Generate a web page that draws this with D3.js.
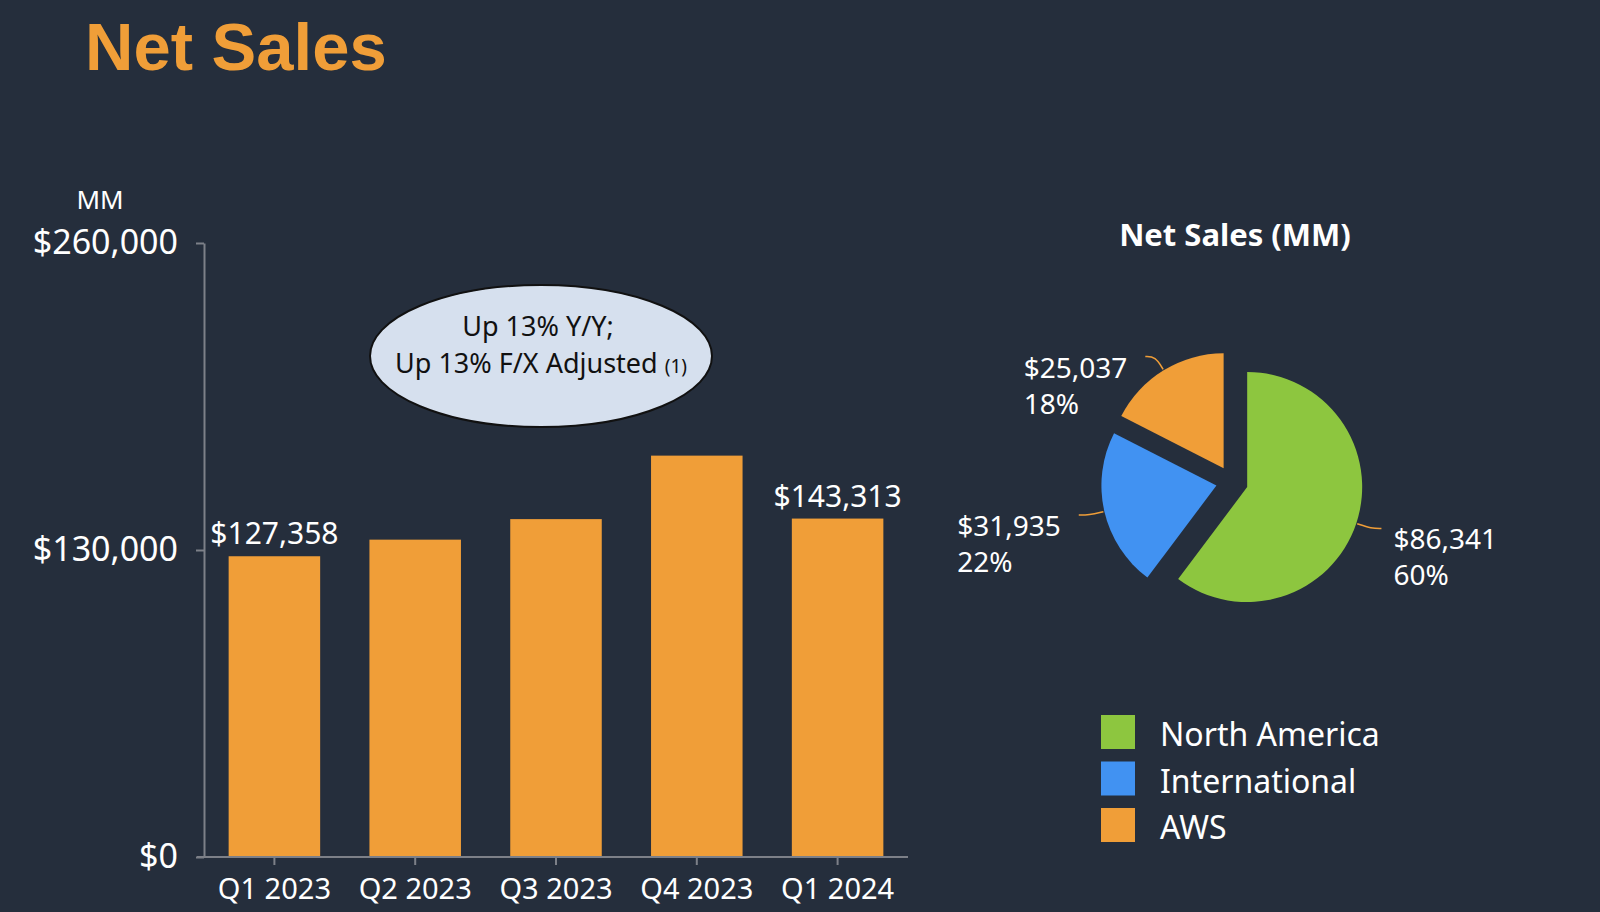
<!DOCTYPE html>
<html>
<head>
<meta charset="utf-8">
<script src="https://cdn.jsdelivr.net/npm/d3@7"></script>
<style>
  body { margin: 0; background: #252e3c; }
  svg { display: block; }
</style>
</head>
<body>
<div id="chart"></div>
<script>
// data
const quarters = ["Q1 2023", "Q2 2023", "Q3 2023", "Q4 2023", "Q1 2024"];
const netSales = [127358, 134383, 143083, 169961, 143313];
const labelledQuarters = ["Q1 2023", "Q1 2024"];
const yTicks = [0, 130000, 260000];

const segments = ["North America", "International", "AWS"];
const segmentSales = [86341, 31935, 25037];
const segmentPct = ["60%", "22%", "18%"];

const noteLines = ["Up 13% Y/Y;", "Up 13% F/X Adjusted"];

const W = 1600, H = 912;
const bg = "#252e3c";
const orange = "#f09e38";
const colors = d3.scaleOrdinal().domain(segments).range(["#8dc63f", "#4192f2", orange]);
const font = "'Noto Sans', sans-serif";

const svg = d3.select("#chart").append("svg")
    .attr("width", W)
    .attr("height", H)
    .style("background", bg);

// title
svg.append("text")
    .attr("x", 85)
    .attr("y", 70)
    .style("font", "bold 67px 'Liberation Sans', Arial, sans-serif")
    .attr("fill", orange)
    .text("Net Sales");

// ---- bar chart ----
const x = d3.scaleBand()
    .domain(quarters)
    .range([204, 908])
    .paddingInner(0.35)
    .paddingOuter(0.175);

const y = d3.scaleLinear()
    .domain([0, 260000])
    .range([857, 243]);

svg.selectAll(".bar")
    .data(quarters)
    .enter()
    .append("rect")
    .attr("class", "bar")
    .attr("x", d => x(d))
    .attr("y", (d, i) => y(netSales[i]))
    .attr("width", x.bandwidth())
    .attr("height", (d, i) => y(0) - y(netSales[i]))
    .attr("fill", orange);

const yAxis = svg.append("g")
    .attr("transform", "translate(204,0)")
    .call(d3.axisLeft(y).tickValues(yTicks).tickSize(8).tickSizeOuter(0).tickPadding(18)
        .tickFormat(d => "$" + d3.format(",")(d)));

const xAxis = svg.append("g")
    .attr("transform", "translate(0,857)")
    .call(d3.axisBottom(x).tickSize(8).tickSizeOuter(0).tickPadding(13));

[yAxis, xAxis].forEach(g => {
    g.selectAll("path, line").attr("stroke", "#7d8088").attr("stroke-width", 2);
    g.selectAll("text").attr("fill", "#fff").style("font-family", font);
});
yAxis.selectAll("text").style("font-size", "34px");
xAxis.selectAll("text").style("font-size", "29px");
xAxis.select(".domain").attr("d", "M197,0H908");

svg.append("text")
    .attr("x", 100)
    .attr("y", 209)
    .attr("text-anchor", "middle")
    .attr("fill", "#fff")
    .style("font", "26px " + font)
    .text("MM");

svg.selectAll(".barLabel")
    .data(quarters.filter(q => labelledQuarters.includes(q)))
    .enter()
    .append("text")
    .attr("class", "barLabel")
    .attr("x", d => x(d) + x.bandwidth() / 2)
    .attr("y", d => y(netSales[quarters.indexOf(d)]) - 12)
    .attr("text-anchor", "middle")
    .attr("fill", "#fff")
    .style("font", "30px " + font)
    .text(d => "$" + d3.format(",")(netSales[quarters.indexOf(d)]));

// growth bubble
svg.append("ellipse")
    .attr("cx", 541)
    .attr("cy", 356)
    .attr("rx", 171)
    .attr("ry", 71)
    .attr("fill", "#d6e0ee")
    .attr("stroke", "#111")
    .attr("stroke-width", 2);

svg.append("text")
    .attr("x", 538)
    .attr("y", 336)
    .attr("text-anchor", "middle")
    .attr("fill", "#111")
    .style("font", "27px " + font)
    .text(noteLines[0]);

const note2 = svg.append("text")
    .attr("x", 541)
    .attr("y", 373)
    .attr("text-anchor", "middle")
    .attr("fill", "#111")
    .style("font", "27px " + font);
note2.append("tspan").text(noteLines[1] + " ");
note2.append("tspan").style("font-size", "19px").text("(1)");

// ---- pie ----
svg.append("text")
    .attr("x", 1235)
    .attr("y", 246)
    .attr("text-anchor", "middle")
    .attr("fill", "#fff")
    .style("font", "bold 31px " + font)
    .text("Net Sales (MM)");

const cx = 1232, cy = 482, r = 115, explode = 16;
const pie = d3.pie().sort(null).value(d => d);
const arcs = pie(segmentSales);
const arc = d3.arc().innerRadius(0).outerRadius(r);

const pieG = svg.append("g").attr("transform", `translate(${cx},${cy})`);

arcs.forEach((a, i) => {
    const mid = (a.startAngle + a.endAngle) / 2;
    const ox = Math.sin(mid) * explode, oy = -Math.cos(mid) * explode;
    const g = pieG.append("g").attr("transform", `translate(${ox},${oy})`);
    g.append("path")
        .attr("d", arc(a))
        .attr("fill", colors(segments[i]));

    // leader line
    const right = Math.sin(mid) > 0;
    const p0 = [Math.sin(mid) * (r + 1), -Math.cos(mid) * (r + 1)];
    const p1 = [Math.sin(mid) * (r + 16), -Math.cos(mid) * (r + 16)];
    const p2 = [p1[0] + (right ? 10 : -10), p1[1]];
    g.append("path")
        .attr("d", d3.line().curve(d3.curveBasis)([p0, p1, p2]))
        .attr("fill", "none")
        .attr("stroke", orange)
        .attr("stroke-width", 1.5);

    const lbl = g.append("text")
        .attr("fill", "#fff")
        .style("font", "28px " + font);
    const t1 = lbl.append("tspan").text("$" + d3.format(",")(segmentSales[i]));
    const t2 = lbl.append("tspan").attr("dy", 36).text(segmentPct[i]);
    const w = t1.node().getComputedTextLength();
    const lx = right ? p2[0] + 12 : p2[0] - 18 - w;
    t1.attr("x", lx).attr("y", p2[1] + 21);
    t2.attr("x", lx);
});

// legend
const legend = svg.append("g")
    .selectAll("g")
    .data(segments)
    .enter()
    .append("g")
    .attr("transform", (d, i) => `translate(1101, ${715 + i * 46.5})`);

legend.append("rect")
    .attr("width", 34)
    .attr("height", 34)
    .attr("fill", d => colors(d));

legend.append("text")
    .attr("x", 59)
    .attr("y", 31)
    .attr("fill", "#fff")
    .style("font", "32px " + font)
    .text(d => d);
</script>
</body>
</html>
